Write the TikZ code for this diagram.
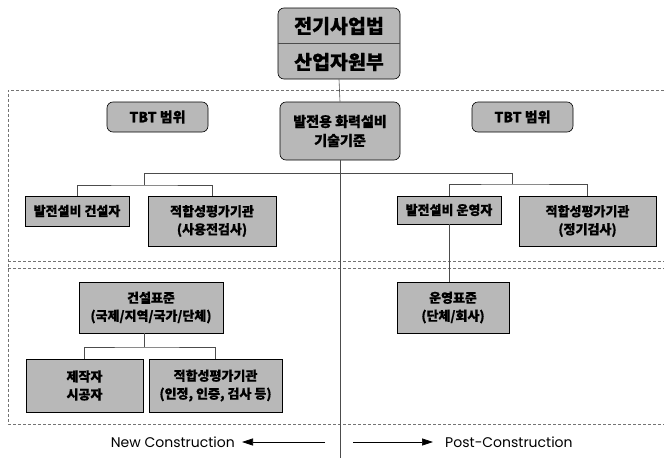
\documentclass[tikz,border=0pt]{standalone}
\usepackage{fontspec}
\setmainfont{Noto Sans CJK KR}[BoldFeatures={FakeBold=0.6}]
\newfontfamily\latfont{Poppins}
\usetikzlibrary{arrows.meta}
\definecolor{boxfill}{gray}{0.72}
\tikzset{
  bx/.style={draw=black, line width=0.6pt, fill=boxfill, align=center, inner sep=0pt,
    font=\fontsize{13}{18}\selectfont\bfseries},
  rbx/.style={bx, rounded corners=6pt},
  conn/.style={draw=black!70, line width=0.6pt},
  frame/.style={draw=black!55, line width=0.5pt, dash pattern=on 3pt off 2pt},
  arr/.style={line width=0.7pt, -{Triangle[length=11pt,width=7pt]}},
  lbl/.style={font=\latfont\fontsize{14}{16}\selectfont, inner sep=0pt}
}
\begin{document}
\begin{tikzpicture}[x=1pt,y=-1pt]
\useasboundingbox (0,0) rectangle (664,458);
% frame
\draw[frame] (664,90) -- (8,90) -- (8,424) -- (664,424);
\draw[frame] (8,261) -- (664,261);
\draw[frame] (8,268) -- (664,268);
% top
\node[rbx, minimum width=122pt, minimum height=71pt] (top) at (339,43.5) {};
\draw[conn] (top.west) -- (top.east);
\node[font=\fontsize{19.5}{20}\selectfont\bfseries] (law) at (339,26) {전기사업법};
\node[font=\fontsize{19.5}{20}\selectfont\bfseries] (min) at (339,62) {산업자원부};
% middle row
\node[rbx, minimum width=120pt, minimum height=58pt, font=\fontsize{14}{19}\selectfont\bfseries] (std) at (340,131) {발전용 화력설비\\기술기준};
\node[rbx, minimum width=101pt, minimum height=30pt, font=\fontsize{14}{16}\selectfont\bfseries] (tbtl) at (157.5,117) {TBT 범위};
\node[rbx, minimum width=101pt, minimum height=30pt, font=\fontsize{14}{16}\selectfont\bfseries] (tbtr) at (522.5,117) {TBT 범위};
% second row
\node[bx, minimum width=104pt, minimum height=30pt] (bl) at (77,211) {발전설비 건설자};
\node[bx, minimum width=128pt, minimum height=50pt] (cl) at (212,221) {적합성평가기관\\(사용전검사)};
\node[bx, minimum width=104pt, minimum height=28pt] (op) at (449,210) {발전설비 운영자};
\node[bx, minimum width=137pt, minimum height=50pt] (cr) at (587.5,221) {적합성평가기관\\(정기검사)};
% third
\node[bx, minimum width=112pt, minimum height=51pt] (ops) at (453,307.5) {운영표준\\(단체/회사)};
\node[bx, minimum width=144pt, minimum height=51pt] (bs) at (151,307.5) {건설표준\\(국제/지역/국가/단체)};
\node[bx, minimum width=117pt, minimum height=53pt] (mk) at (84.5,385.5) {제작자\\시공자};
\node[bx, minimum width=133pt, minimum height=53pt] (cb) at (215.5,385.5) {적합성평가기관\\(인정, 인증, 검사 등)};
% connectors
\coordinate (jt) at (340,173);
\coordinate (jl) at (144,185);
\coordinate (jr) at (512,184);
\coordinate (jb) at (144,347);
\coordinate (bot) at (340,458);
\draw[conn] (top.south) -- (std.north);
\draw[conn] (std.south) -- (bot);
\draw[conn] (jl) -- (jl |- jt) -- (jr |- jt) -- (jr);
\draw[conn] (bl.north) |- (jl) -| (cl.north);
\draw[conn] (op.north) |- (jr) -| (cr.north);
\draw[conn] (op.south) -- (op.south |- ops.north);
\draw[conn] (jb |- bs.south) -- (jb);
\draw[conn] (mk.north) |- (jb) -| (cb.north);
% bottom labels
\node[lbl, anchor=east] (nc) at (235,442) {New Construction};
\node[lbl, anchor=west] (pc) at (445,442) {Post−Construction};
\coordinate (al) at (325,442);
\coordinate (ar) at (353,442);
\draw[arr] (al) -- ([xshift=7pt]nc.east);
\draw[arr] (ar) -- ([xshift=-12pt]pc.west);
\end{tikzpicture}
\end{document}
